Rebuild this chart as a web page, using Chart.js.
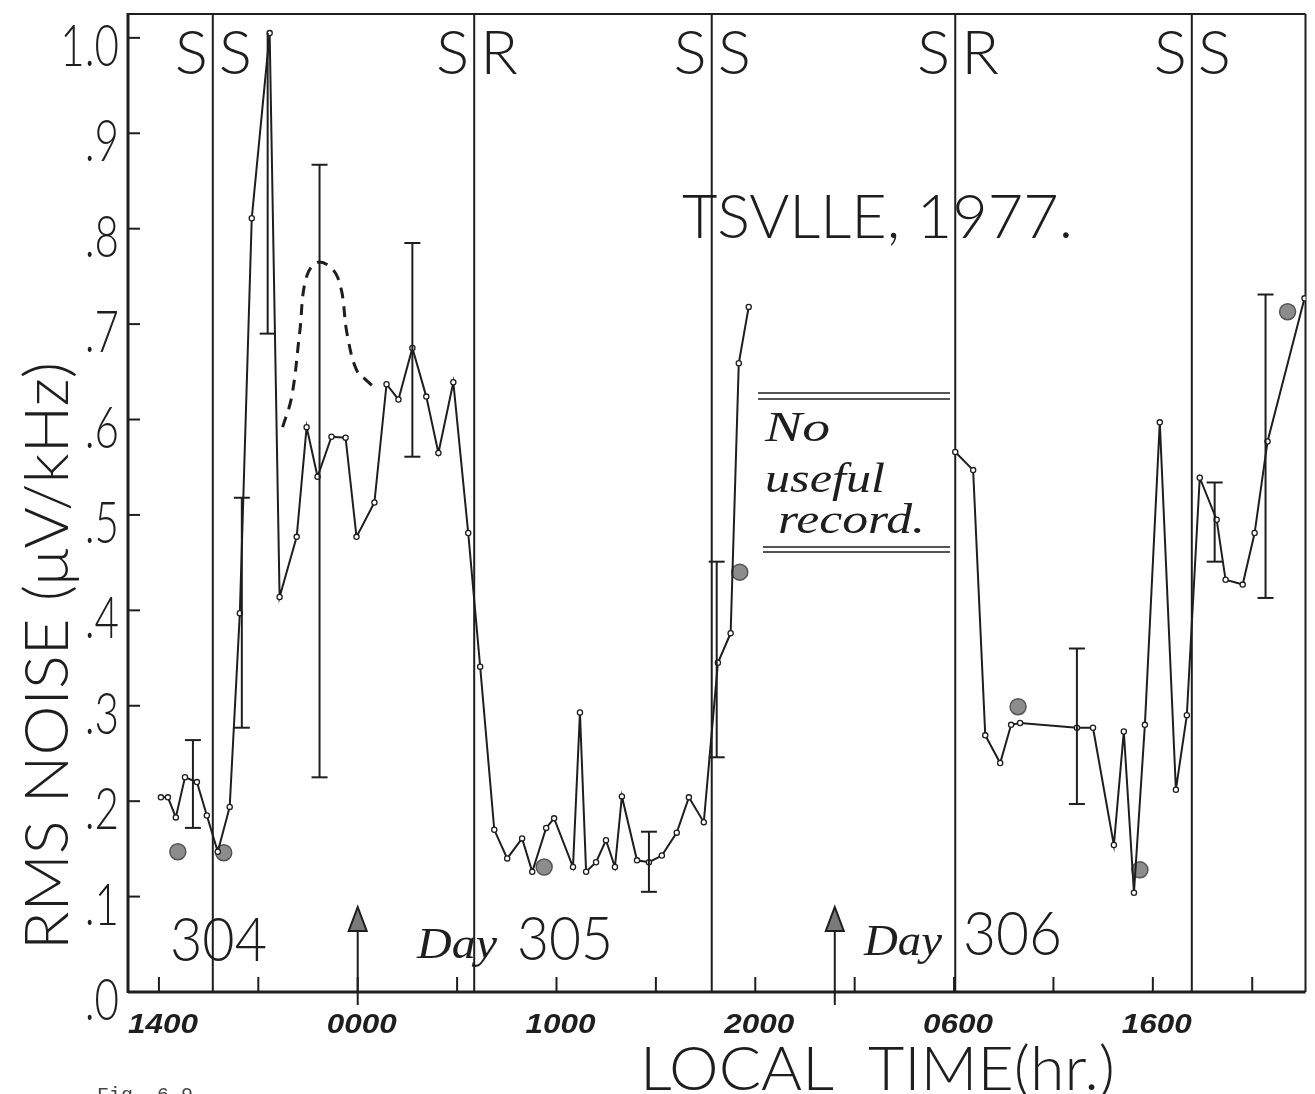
<!DOCTYPE html>
<html>
<head>
<meta charset="utf-8">
<script src="https://cdn.jsdelivr.net/npm/chart.js@4.4.1/dist/chart.umd.min.js"></script>
<style>
    html, body { margin: 0; padding: 0; background: #fff; }
    #wrap { width: 1315px; height: 1094px; }
</style>
</head>
<body>
<div id="wrap"><canvas id="grafico" width="1315" height="1094"></canvas></div>
<script>
// hours counted from 0000 of day 304 (14 = 1400 day 304, 48 = 0000 day 306)
const horasA = [14.10, 14.45, 14.85, 15.31, 15.91, 16.41, 16.96, 17.56, 18.07, 18.67, 19.57, 20.07,
                20.93, 21.43, 21.98, 22.68, 23.39, 23.94, 24.84, 25.45, 26.05, 26.75, 27.45, 28.06,
                28.81, 29.56, 30.16, 30.87, 31.52, 32.27, 32.78, 33.48, 33.88, 34.83, 35.18, 35.49,
                35.99, 36.49, 36.94, 37.29, 38.05, 38.65, 39.30, 40.05, 40.66, 41.41, 42.12, 42.76,
                43.17, 43.67];
const ruidoA = [.204, .204, .183, .225, .220, .185, .147, .194, .397, .811, 1.005, .414,
                .477, .592, .540, .582, .581, .477, .513, .637, .621, .675, .624, .565,
                .639, .481, .341, .170, .140, .161, .126, .172, .182, .131, .293, .126,
                .136, .159, .131, .205, .138, .136, .143, .167, .204, .178, .345, .376,
                .659, .718];

const horasB = [54.06, 54.96, 55.57, 56.32, 56.87, 57.32, 60.18, 60.99, 62.04, 62.54, 63.05,
                63.60, 64.35, 65.16, 65.71, 66.36, 67.21, 67.66, 68.52, 69.12, 69.77, 71.63];
const ruidoB = [.566, .547, .269, .240, .280, .282, .277, .277, .154, .273, .104,
                .280, .597, .212, .290, .539, .495, .432, .427, .481, .577, .727];

// big grey dots
const horasCirc = [14.95, 17.26, 33.38, 43.22, 57.22, 63.35, 70.78];
const ruidoCirc = [.147, .146, .131, .440, .299, .128, .713];

// dashed hump
const horasTrac = [20.22, 20.68, 21.08, 21.43, 22.08, 22.99, 23.49, 23.94, 24.44, 24.99];
const ruidoTrac = [.592, .624, .691, .750, .765, .749, .687, .652, .641, .631];

// error bars (capTopo false = no cap on the upper end)
const erroHoras = [15.71, 18.17, 19.47, 22.08, 26.75, 38.65, 42.06, 60.18, 67.11, 69.67];
const erroMin   = [.172, .277, .690, .225, .561, .105, .246, .197, .451, .413];
const erroMax   = [.264, .518, 1.005, .867, .785, .168, .451, .360, .534, .731];
const capTopo   = [true, true, false, true, true, true, true, true, true, true];

// sunset / sunrise lines
const solHoras   = [16.71, 29.86, 41.81, 54.06, 65.96];
const solRotulos = [['S', 'S'], ['S', 'R'], ['S', 'S'], ['S', 'R'], ['S', 'S']];

const ticksX    = [14, 19, 24, 29, 34, 39, 44, 49, 54, 59, 64, 69];
const rotulosX  = { 14: '1400', 24: '0000', 34: '1000', 44: '2000', 54: '0600', 64: '1600' };
const ticksY    = [0, .1, .2, .3, .4, .5, .6, .7, .8, .9, 1.0];
const rotulosY  = ['.0', '.1', '.2', '.3', '.4', '.5', '.6', '.7', '.8', '.9', '1.0'];
const setasHoras = [24, 48];

const INK  = '#1e1e1e';
const LETRA = "300 62px Lato, 'Liberation Sans', sans-serif";

const pts = (xs, ys) => xs.map((x, i) => ({ x, y: ys[i] }));

function texto(ctx, str, x, y, font, op = {}) {
    ctx.save();
    ctx.font = font;
    ctx.textBaseline = 'alphabetic';
    const w = ctx.measureText(str).width;
    const sx = op.width ? op.width / w : (op.sx || 1);
    let x0 = 0;
    if (op.align === 'center') x0 = -w * sx / 2;
    if (op.align === 'right')  x0 = -w * sx;
    ctx.translate(x, y);
    if (op.rot) ctx.rotate(op.rot);
    ctx.translate(x0, 0);
    ctx.scale(sx, 1);
    ctx.fillStyle = op.color || INK;
    ctx.fillText(str, 0, 0);
    ctx.restore();
}

function linha(ctx, x1, y1, x2, y2, lw, cor) {
    ctx.beginPath();
    ctx.lineWidth = lw;
    ctx.strokeStyle = cor || INK;
    ctx.moveTo(x1, y1);
    ctx.lineTo(x2, y2);
    ctx.stroke();
}

const moldura = {
    id: 'moldura',
    beforeDatasetsDraw(chart) {
        const { ctx, chartArea: a, scales: { x: sx, y: sy } } = chart;
        ctx.save();
        ctx.lineCap = 'butt';

        // frame
        linha(ctx, a.left, a.top, a.right, a.top, 2);
        linha(ctx, a.right, a.top, a.right, a.bottom, 2);
        linha(ctx, a.left, a.top - 1, a.left, a.bottom + 1, 3);
        linha(ctx, a.left, a.bottom, a.right, a.bottom, 3);

        // y ticks + labels
        ticksY.forEach((v, i) => {
            const y = sy.getPixelForValue(v);
            linha(ctx, a.left, y, a.left + 12, y, 2);
            texto(ctx, rotulosY[i], 119, y + 28, "300 57px Lato, 'Liberation Sans', sans-serif", { align: 'right', sx: 0.74 });
        });

        // x ticks + labels
        ticksX.forEach(h => {
            const x = sx.getPixelForValue(h);
            linha(ctx, x, a.bottom, x, a.bottom - 15, 2);
            if (rotulosX[h]) {
                texto(ctx, rotulosX[h], x + 4, 1033, "italic bold 27px 'Liberation Sans', sans-serif", { align: 'center', width: 70 });
            }
        });

        // sunset / sunrise
        solHoras.forEach((h, i) => {
            const x = sx.getPixelForValue(h);
            linha(ctx, x, a.top, x, a.bottom, 2);
            texto(ctx, solRotulos[i][0], x - 5, 74, LETRA, { align: 'right' });
            texto(ctx, solRotulos[i][1], x + 6, 74, LETRA);
        });

        // midnight arrows
        setasHoras.forEach(h => {
            const x = sx.getPixelForValue(h);
            linha(ctx, x, 928, x, a.bottom + 13, 2);
            ctx.beginPath();
            ctx.moveTo(x, 907);
            ctx.lineTo(x + 9, 931);
            ctx.lineTo(x - 9, 931);
            ctx.closePath();
            ctx.fillStyle = '#7a7a7a';
            ctx.fill();
            ctx.lineWidth = 2;
            ctx.strokeStyle = INK;
            ctx.stroke();
        });

        // "no useful record" box lines
        linha(ctx, 758, 393, 950, 393, 2, '#555');
        linha(ctx, 758, 399, 950, 399, 2, '#555');
        linha(ctx, 763, 547, 950, 547, 2, '#555');
        linha(ctx, 763, 552, 950, 552, 2, '#555');
        ctx.restore();
    },
    afterDatasetsDraw(chart) {
        const { ctx, scales: { x: sx, y: sy } } = chart;
        ctx.save();
        erroHoras.forEach((h, i) => {
            const x = sx.getPixelForValue(h);
            const y1 = sy.getPixelForValue(erroMin[i]);
            const y2 = sy.getPixelForValue(erroMax[i]);
            linha(ctx, x, y1, x, y2, 2);
            linha(ctx, x - 8, y1, x + 8, y1, 2);
            if (capTopo[i]) linha(ctx, x - 8, y2, x + 8, y2, 2);
        });
        ctx.restore();
    },
    afterDraw(chart) {
        const { ctx } = chart;
        const serif = "italic 44px 'Liberation Serif', serif";

        texto(ctx, 'TSVLLE, 1977.', 682, 238, LETRA, { width: 391 });

        texto(ctx, '304', 170, 961, LETRA, { width: 97 });
        texto(ctx, 'Day', 417, 958, serif, { width: 80 });
        texto(ctx, '305', 517, 960, LETRA, { width: 96 });
        texto(ctx, 'Day', 864, 955, serif, { width: 78 });
        texto(ctx, '306', 963, 955, LETRA, { width: 99 });

        texto(ctx, 'No', 765, 441, "italic 42px 'Liberation Serif', serif", { width: 65 });
        texto(ctx, 'useful', 765, 492, "italic 42px 'Liberation Serif', serif", { width: 120 });
        texto(ctx, 'record.', 778, 533, "italic 42px 'Liberation Serif', serif", { width: 147 });

        texto(ctx, 'LOCAL  TIME(hr.)', 640, 1090, LETRA, { width: 475 });
        texto(ctx, 'RMS NOISE (\u03BCV/kHz)', 68, 950, LETRA, { width: 588, rot: -Math.PI / 2 });

        texto(ctx, 'Fig. 6.9', 97, 1101, "20px 'Liberation Mono', monospace", { color: '#444' });
    }
};

const linhaBase = {
    borderColor: INK,
    borderWidth: 2,
    pointRadius: 2.6,
    pointBackgroundColor: '#fff',
    pointBorderColor: INK,
    pointBorderWidth: 1.3,
    tension: 0,
    fill: false
};

new Chart(document.getElementById('grafico'), {
    type: 'line',
    data: {
        datasets: [
            { ...linhaBase, label: 'Days 304-305', data: pts(horasA, ruidoA) },
            { ...linhaBase, label: 'Day 306', data: pts(horasB, ruidoB) },
            {
                label: 'dashed',
                data: pts(horasTrac, ruidoTrac),
                borderColor: INK,
                borderWidth: 3,
                borderDash: [11, 8],
                pointRadius: 0,
                tension: 0.4,
                fill: false
            },
            {
                label: 'dots',
                data: pts(horasCirc, ruidoCirc),
                showLine: false,
                pointRadius: 8,
                pointBackgroundColor: '#8c8c8c',
                pointBorderColor: '#555',
                pointBorderWidth: 1.5
            }
        ]
    },
    options: {
        responsive: false,
        animation: false,
        layout: { padding: { left: 128, right: 7, top: 14, bottom: 102 } },
        plugins: { legend: { display: false }, tooltip: { enabled: false } },
        scales: {
            x: { type: 'linear', min: 12.444, max: 71.68, display: false },
            y: { min: 0, max: 1.025, display: false }
        }
    },
    plugins: [moldura]
});
</script>
</body>
</html>
